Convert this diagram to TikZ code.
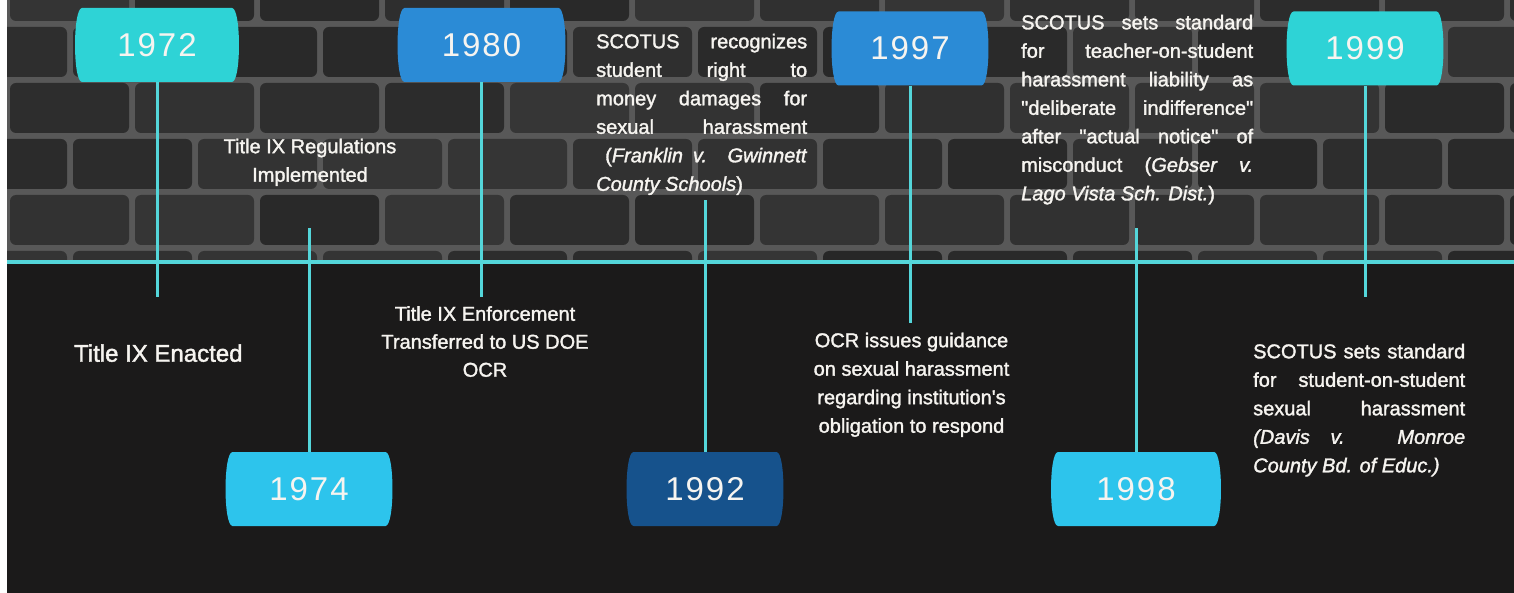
\documentclass[tikz,border=0pt]{standalone}
\usepackage{fontspec}
\usepackage{xcolor}
\usepackage{tikz}
\setmainfont{Liberation Sans}
\newfontfamily\yearfont{Liberation Sans}[LetterSpace=6]
\newfontfamily\notefont{Liberation Sans}[FakeBold=1.6]
\definecolor{ground}{RGB}{27,26,26}
\definecolor{mortar}{RGB}{88,88,88}
\definecolor{brick}{RGB}{54,54,54}
\definecolor{cyanline}{RGB}{84,214,218}
\definecolor{aqua}{RGB}{46,211,214}
\definecolor{azure}{RGB}{43,139,214}
\definecolor{sky}{RGB}{45,196,236}
\definecolor{navy}{RGB}{22,82,140}
\definecolor{paper}{RGB}{246,244,240}
\tikzset{
  yearbox/.style  ={rectangle, inner sep=0pt, minimum height=74pt, text=paper,
                    font=\yearfont\fontsize{33pt}{33pt}\selectfont,
                    path picture={\fill[#1]
                      ([xshift=7pt]path picture bounding box.north west) --
                      ([xshift=-7pt]path picture bounding box.north east)
                      .. controls ([xshift=2.3pt]path picture bounding box.north east)
                      and ([xshift=2.3pt]path picture bounding box.south east) ..
                      ([xshift=-7pt]path picture bounding box.south east) --
                      ([xshift=7pt]path picture bounding box.south west)
                      .. controls ([xshift=-2.3pt]path picture bounding box.south west)
                      and ([xshift=-2.3pt]path picture bounding box.north west) .. cycle;}},
  railline/.style ={line width=4pt, color=cyanline},
  stemline/.style ={line width=3pt, color=cyanline},
  event/.style    ={font=\notefont\fontsize{20pt}{28.5pt}\selectfont, text=paper,
                    inner sep=0pt, align=center},
  ruling/.style   ={event, text width=#1, align=justify,
                    execute at begin node={\tolerance=10000 \hbadness=10000}},
}

\begin{document}
\begin{tikzpicture}[x=1pt, y=-1pt]
\useasboundingbox (0,0) rectangle (1514,593);
\fill[white] (0,0) rectangle (1514,593);
\fill[ground] (7,0) rectangle (1514,593);
% brick wall behind the upper half
\begin{scope}
  \clip (7,0) rectangle (1514,262);
  \fill[mortar] (7,0) rectangle (1514,262);
  \pgfmathsetseed{7}
  \foreach \r in {0,...,5}
    \foreach \c in {0,...,12} {
      \pgfmathsetmacro\bx{10-62*mod(\r,2)+125*\c}
      \pgfmathsetmacro\by{-29+56*\r}
      \pgfmathsetmacro\sh{int(72+28*rnd)}
      \fill[brick!\sh!black, rounded corners=6pt] (\bx,\by) rectangle ++(119,50);
    }
\end{scope}

\coordinate (railL) at (7,262);
\coordinate (railR) at (1514,262);
\draw[railline] (railL) -- (railR);

\foreach \yr/\x/\y/\w/\col/\ky in {1972/157/45/164/aqua/297,
                                   1980/481.5/45/168/azure/297,
                                   1997/910/48.5/157/azure/323,
                                   1999/1365/48.5/157/aqua/297,
                                   1974/309/489/167/sky/228,
                                   1992/705/489/157/navy/200,
                                   1998/1136/489/170/sky/228} {
  \node[yearbox=\col, minimum width=\w pt] (y\yr) at (\x,\y) {\yr};
  \coordinate (k\yr) at (\x,\ky);
  \draw[stemline] (y\yr) -- (k\yr);
}

\node[event, anchor=base] (regs) at (310,181.7) {Title IX Regulations\\Implemented};
\node[event, anchor=base, font=\notefont\fontsize{24pt}{28pt}\selectfont] (enact) at (158.3,361.7) {Title IX Enacted};
\node[event, anchor=base, font=\notefont\fontsize{20pt}{28pt}\selectfont] (enforce) at (485,376.7) {Title IX Enforcement\\Transferred to US DOE\\OCR};
\node[event, anchor=base] (guide) at (911.5,432.7) {OCR issues guidance\\on sexual harassment\\regarding institution's\\obligation to respond};
\node[ruling=211pt, anchor=base west] (franklin) at (596,48.3) {SCOTUS recognizes\linebreak
  student right to\linebreak money damages for\linebreak sexual harassment\linebreak
  \hspace*{9pt}(\textit{Franklin v. Gwinnett}\linebreak \textit{County Schools})};
\node[ruling=232pt, anchor=base west] (gebser) at (1021,29.3) {SCOTUS sets standard\linebreak
  for teacher-on-student\linebreak harassment liability as\linebreak
  "deliberate indifference"\linebreak after "actual notice" of\linebreak
  misconduct (\textit{Gebser v.}\linebreak \textit{Lago Vista Sch. Dist.})};
\node[ruling=212pt, anchor=base west] (davis) at (1253,358.3) {SCOTUS sets standard\linebreak
  for student-on-student\linebreak sexual harassment\linebreak
  \textit{(Davis v. Monroe}\linebreak \textit{County Bd. of Educ.)}};
\end{tikzpicture}
\end{document}
